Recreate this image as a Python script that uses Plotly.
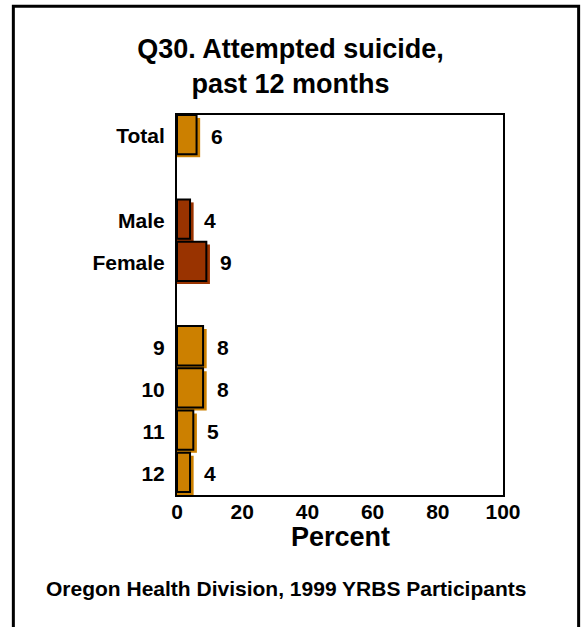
import plotly.graph_objects as go

# data
categories = ['Total', ' ', 'Male', 'Female', '  ', '9', '10', '11', '12']
values = [6, None, 4, 9, None, 8, 8, 5, 4]
orange = '#CC8000'
darkred = '#993300'
bar_colors = [orange, orange, darkred, darkred, orange, orange, orange, orange, orange]

FONT = 'Liberation Sans, Arial, sans-serif'
shadow_shift = 1.1  # shadow sits a few pixels to the right of each bar

fig = go.Figure()

# shadow bars
fig.add_trace(go.Bar(
    y=categories, x=[v + shadow_shift if v is not None else None for v in values],
    orientation='h', marker=dict(color=bar_colors, line=dict(width=0)),
    offset=-0.43, width=0.93, hoverinfo='skip', showlegend=False))

# front bars with black outline
fig.add_trace(go.Bar(
    y=categories, x=values, orientation='h',
    marker=dict(color=bar_colors, line=dict(color='black', width=2)),
    offset=-0.5, width=0.93, showlegend=False))

# value labels (y given as category index so '9'..'12' are not read as numbers)
for i, v in enumerate(values):
    if v is None:
        continue
    fig.add_annotation(x=v, y=i, text=str(v), showarrow=False, xanchor='left',
                       xshift=12, font=dict(family=FONT, size=21, color='black', weight='bold'))

fig.update_layout(
    width=581, height=627,
    margin=dict(l=177, r=78, t=115, b=132),
    paper_bgcolor='white', plot_bgcolor='white',
    barmode='overlay',
    font=dict(family=FONT, color='black'),
    title=dict(text='Q30. Attempted suicide,<br>past 12 months', x=0.5, xanchor='center',
               y=0.908, yanchor='middle',
               font=dict(family=FONT, size=27, color='black', weight='bold')),
    xaxis=dict(range=[0, 100], tickvals=[0, 20, 40, 60, 80, 100], showgrid=False, zeroline=False,
               showline=True, linecolor='black', linewidth=2, mirror=True, ticks='',
               ticklabelstandoff=-3,
               tickfont=dict(family=FONT, size=21, weight='bold')),
    yaxis=dict(type='category', categoryarray=categories, autorange='reversed', showgrid=False,
               zeroline=False, showline=True, linecolor='black', linewidth=2, mirror=True,
               ticks='', ticklabelstandoff=6,
               tickfont=dict(family=FONT, size=21, weight='bold')),
)

# axis title as annotation so it can sit close to the tick labels
fig.add_annotation(text='Percent', xref='paper', yref='paper', x=0.5, y=-0.111,
                   showarrow=False, xanchor='center', yanchor='middle',
                   font=dict(family=FONT, size=27, color='black', weight='bold'))

# outer frame
fig.add_shape(type='rect', xref='paper', yref='paper', x0=-0.502, x1=1.232, y0=-0.4, y1=1.286,
              line=dict(color='black', width=3), layer='above')

# footer
fig.add_annotation(text='Oregon Health Division, 1999 YRBS Participants', xref='paper', yref='paper',
                   x=0.335, y=-0.245, showarrow=False, xanchor='center', yanchor='middle',
                   font=dict(family=FONT, size=21, color='black', weight='bold'))

fig.write_html('out.html', config={'displayModeBar': False},
               post_script="document.body.style.margin='0';")
